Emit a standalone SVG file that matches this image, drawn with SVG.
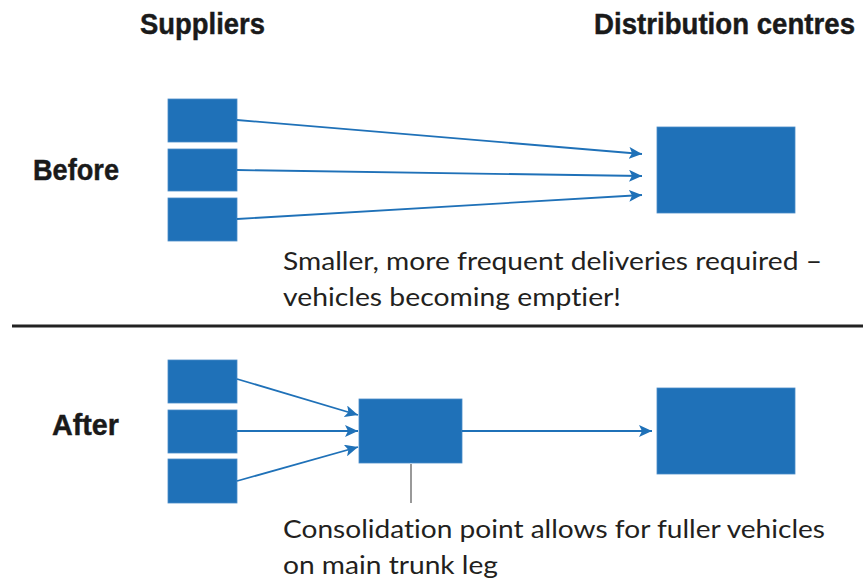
<svg xmlns="http://www.w3.org/2000/svg" width="863" height="580" viewBox="0 0 863 580">
<style>
.box{fill:#1f71b8;stroke:#4a8cc8;stroke-width:0.8}
.arr{stroke:#1f71b8;stroke-width:1.8;fill:none;marker-end:url(#ah)}
.hd{font-family:"Liberation Sans",Arial,sans-serif;font-weight:bold;font-size:27px;fill:#1a1a1a;stroke:#1a1a1a;stroke-width:0.4}
.tx{font-family:Lato,"Noto Sans",sans-serif;font-size:25px;fill:#231f20;font-variant-ligatures:none}
</style>
<defs>
<marker id="ah" markerWidth="14" markerHeight="12" refX="13" refY="6" orient="auto" markerUnits="userSpaceOnUse">
<path d="M0,0 L13,6 L0,12 L3,6 Z" fill="#1f71b8"/>
</marker>
</defs>
<rect width="863" height="580" fill="#fff"/>
<g transform="translate(140,34) scale(1,1.12)"><text class="hd" x="0" y="0" textLength="125" lengthAdjust="spacingAndGlyphs">Suppliers</text></g>
<g transform="translate(594,34) scale(1,1.12)"><text class="hd" x="0" y="0" textLength="261" lengthAdjust="spacingAndGlyphs">Distribution centres</text></g>
<g transform="translate(119,180) scale(1,1.12)"><text class="hd" x="0" y="0" text-anchor="end" textLength="86" lengthAdjust="spacingAndGlyphs">Before</text></g>
<g transform="translate(119,435) scale(1,1.12)"><text class="hd" x="0" y="0" text-anchor="end" textLength="67" lengthAdjust="spacingAndGlyphs">After</text></g>
<g id="before-s1"><rect class="box" x="168" y="99" width="69" height="43"/></g>
<g id="before-s2"><rect class="box" x="168" y="149" width="69" height="42"/></g>
<g id="before-s3"><rect class="box" x="168" y="198" width="69" height="43"/></g>
<g id="before-dc"><rect class="box" x="657" y="127" width="138" height="86"/></g>
<g id="after-s1"><rect class="box" x="168" y="360" width="69" height="43"/></g>
<g id="after-s2"><rect class="box" x="168" y="410" width="69" height="43"/></g>
<g id="after-s3"><rect class="box" x="168" y="459" width="69" height="44"/></g>
<g id="consolidation"><rect class="box" x="359" y="399" width="103" height="64"/></g>
<g id="after-dc"><rect class="box" x="657" y="388" width="138" height="86"/></g>
<g id="connectors">
<line class="arr" x1="237" y1="120" x2="642" y2="154"/>
<line class="arr" x1="237" y1="170" x2="642" y2="176"/>
<line class="arr" x1="237" y1="219" x2="642" y2="195"/>
<line class="arr" x1="237" y1="379" x2="358" y2="415"/>
<line class="arr" x1="237" y1="431" x2="358" y2="431"/>
<line class="arr" x1="237" y1="481" x2="358" y2="447"/>
<line class="arr" x1="462" y1="431" x2="652" y2="431"/>
<line x1="411" y1="464" x2="411" y2="503" stroke="#555" stroke-width="1.2"/>
</g>
<line x1="12" y1="326" x2="863" y2="326" stroke="#222" stroke-width="3"/>
<text class="tx" x="283" y="270" textLength="539" lengthAdjust="spacingAndGlyphs">Smaller, more frequent deliveries required –</text>
<text class="tx" x="283" y="306" textLength="338" lengthAdjust="spacingAndGlyphs">vehicles becoming emptier!</text>
<text class="tx" x="283" y="538" textLength="542" lengthAdjust="spacingAndGlyphs">Consolidation point allows for fuller vehicles</text>
<text class="tx" x="283" y="574" textLength="215" lengthAdjust="spacingAndGlyphs">on main trunk leg</text>
</svg>
